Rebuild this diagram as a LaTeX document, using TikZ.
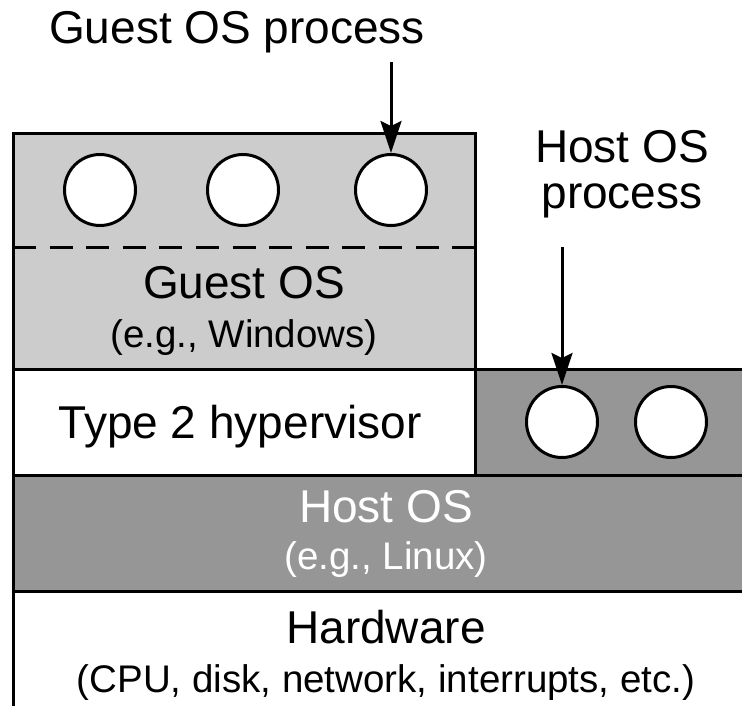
\documentclass[tikz,border=0pt]{standalone}
\usepackage{fontspec}
\setmainfont{Liberation Sans}
\usetikzlibrary{arrows.meta}
\definecolor{guestgray}{gray}{0.80}
\definecolor{hostgray}{gray}{0.59}

\begin{document}
\begin{tikzpicture}[x=1pt,y=-1pt, line width=3pt,
  big/.style={font=\fontsize{46}{50}\selectfont, inner sep=0pt, anchor=base},
  small/.style={font=\fontsize{38.5}{44}\selectfont, inner sep=0pt, anchor=base},
  proc/.style={circle, draw, fill=white, minimum size=71pt, inner sep=0pt, line width=3pt},
  pointer/.style={-{Stealth[length=32pt,width=21pt,inset=5pt]}, line width=3pt}]
\useasboundingbox (0,0) rectangle (742,705);
\clip (0,0) rectangle (742,705);
% layer fills
\fill[guestgray] (13,133) rectangle (475,369);
\fill[white] (13,369) rectangle (475,475);
\fill[hostgray] (475,369) rectangle (760,475);
\fill[hostgray] (13,475) rectangle (760,591);
\fill[white] (13,591) rectangle (760,720);
% layer borders
\draw (13,720) -- (13,133) -- (475,133) -- (475,475);
\draw (13,369) -- (760,369);
\draw (13,475) -- (760,475);
\draw (13,591) -- (760,591);
\draw[dash pattern=on 23pt off 13.6pt] (13,247) -- (475,247);
% processes
\node[proc] (g1) at (100,190) {};
\node[proc] (g2) at (243,190) {};
\node[proc] (g3) at (391,190) {};
\node[proc] (h1) at (562,422) {};
\node[proc] (h2) at (671,422) {};
% labels
\node[big] (gp) at (237,43) {Guest OS process};
\node[big] (hp1) at (622,162) {Host OS};
\node[big] (hp2) at (622,208) {process};
\node[big] (gos) at (244,298) {Guest OS};
\node[small] (gex) at (244,347) {(e.g., Windows)};
\node[big] (hyp) at (240,438) {Type 2 hypervisor};
\node[big, text=white] (hos) at (386,522) {Host OS};
\node[small, text=white] (hex) at (386,569) {(e.g., Linux)};
\node[big] (hw) at (386,643) {Hardware};
\node[small] (hwx) at (386,692) {(CPU, disk, network, interrupts, etc.)};
% pointers
\coordinate (gtail) at (391,62);
\coordinate (htail) at (562,247);
\draw[pointer] (gtail) -- (g3.north);
\draw[pointer] (htail) -- (h1.north);
\end{tikzpicture}
\end{document}
